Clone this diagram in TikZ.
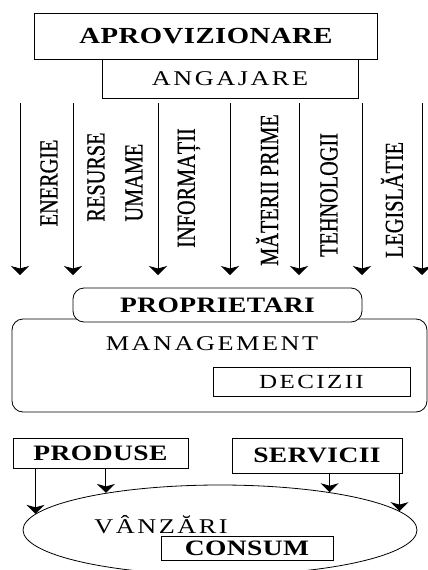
\documentclass[tikz,border=0pt]{standalone}
\usepackage{fontspec}
\setmainfont{Liberation Serif}
\newfontfamily\headfont[FakeStretch=1.25,LetterSpace=2]{Liberation Serif}
\newfontfamily\plainfont[FakeStretch=1.25,LetterSpace=12]{Liberation Serif}
\newfontfamily\sidefont[FakeStretch=0.78,FakeBold=0.6]{Liberation Serif}
\usetikzlibrary{arrows.meta,shapes.geometric}

\begin{document}
\begin{tikzpicture}[x=1pt, y=-1pt, >={Stealth[width=18pt,length=9pt,inset=2.5pt]}, line width=0.8pt]

        % --- STYLES ---
        \tikzstyle{box} = [draw=black, fill=white, inner sep=0pt]
        \tikzstyle{round_box} = [box, rounded corners=11pt]
        \tikzstyle{head_text} = [font=\headfont\bfseries\fontsize{22}{26}\selectfont]
        \tikzstyle{plain_text} = [font=\plainfont\fontsize{21}{25}\selectfont]
        \tikzstyle{side_text} = [rotate=90, align=left, inner sep=0pt, font=\sidefont\fontsize{26}{30}\selectfont]
        \tikzstyle{flow} = [->, line width=1pt]

        \useasboundingbox (0,0) rectangle (428,570);

        % --- TOP ---
        \node[box, head_text, minimum width=343, minimum height=46, font=\headfont\bfseries\fontsize{23}{27}\selectfont] (aprov) at (206,36) {APROVIZIONARE};
        \node[box, plain_text, minimum width=256, minimum height=39] (angaj) at (230,78.5) {ANGAJARE};

        % --- INPUTS ---
        \foreach \x [count=\i] in {20,73,158,230,299,362,422} {
            \coordinate (in\i) at (\x,103);
            \coordinate (out\i) at (\x,275);
            \draw[flow] (in\i) -- (out\i);
        }
        \node[side_text] (energ) at (49,183) {ENERGIE};
        \node[side_text] (resurse) at (115,177) {RESURSE\\[8pt]UMAME};
        \node[side_text] (info) at (189,188) {INFORMAȚII};
        \node[side_text] (mat) at (267,190) {MĂTERII PRIME};
        \node[side_text] (tehno) at (329,195) {TEHNOLOGII};
        \node[side_text] (legis) at (392,200) {LEGISLĂTIE};

        % --- MIDDLE ---
        \node[round_box, minimum width=415, minimum height=93] (mgmt) at (219.5,365.5) {};
        \node[round_box, head_text, minimum width=289, minimum height=34] (propr) at (217.5,305) {PROPRIETARI};
        \node[plain_text] (mgmttxt) at (212,344) {MANAGEMENT};
        \node[box, plain_text, minimum width=197, minimum height=29, font=\plainfont\fontsize{20}{24}\selectfont] (dec) at (311.5,381.5) {DECIZII};

        % --- BOTTOM ---
        \node[box, head_text, minimum width=175, minimum height=30] (prod) at (100.5,453) {PRODUSE};
        \node[box, head_text, minimum width=170, minimum height=35] (serv) at (317,455.5) {SERVICII};
        \node[ellipse, draw=black, minimum width=394, minimum height=90] (vanz) at (220,530) {};
        \node[plain_text] (vanztxt) at (161,525) {VÂNZĂRI};
        \node[box, head_text, minimum width=172, minimum height=24] (cons) at (247,548) {CONSUM};

        % Produse / servicii to sales
        \draw[flow] (vanz.175 |- prod.south) -- (vanz.175);
        \draw[flow] (vanz.162 |- prod.south) -- (vanz.162);
        \draw[flow] (vanz.19 |- serv.south) -- (vanz.19);
        \draw[flow] (vanz.6 |- serv.south) -- (vanz.6);

\end{tikzpicture}
\end{document}
